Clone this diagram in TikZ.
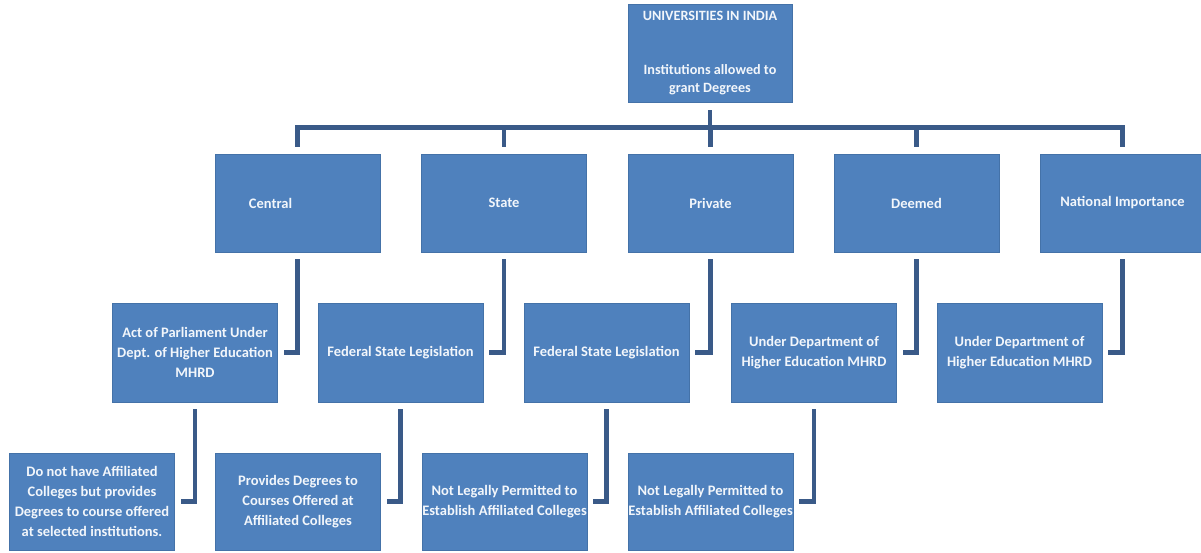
\documentclass[tikz,border=0pt]{standalone}
\usepackage{fontspec}
\setmainfont{Carlito}
\usetikzlibrary{calc}
\definecolor{boxblue}{HTML}{4F81BD}
\definecolor{boxedge}{HTML}{4472A8}
\definecolor{linecol}{HTML}{3A5A88}
\definecolor{txtcol}{HTML}{F2F6FB}
\tikzset{
  ubox/.style={rectangle, fill=boxblue, draw=boxedge, line width=0.8pt,
    minimum width=165pt, minimum height=98pt, inner sep=0pt,
    text=txtcol, font=\bfseries\fontsize{14.5}{20}\selectfont, align=center},
  conn/.style={draw=linecol, line width=4.5pt, line join=miter, line cap=butt},
}
\begin{document}
\begin{tikzpicture}[x=1pt, y=-1pt]
\useasboundingbox (0,0) rectangle (1201,552);
% top
\node[ubox, font=\bfseries\fontsize{14.2}{18}\selectfont, minimum width=164pt] (top) at (710,53)
  {UNIVERSITIES IN INDIA\\[36pt]Institutions allowed to\\grant Degrees};
% row 1
\node[ubox] (central) at (297.5,203) {Central\hspace*{54pt}};
\node[ubox] (state) at (504,203) {State};
\node[ubox] (private) at (710.5,203) {Private};
\node[ubox] (deemed) at (916.5,203) {Deemed};
\node[ubox] (national) at (1122.5,203) {National Importance};
% row 2
\node[ubox, minimum height=99pt] (act) at (195,352.5) {Act of Parliament Under\\Dept. of Higher Education\\MHRD};
\node[ubox, minimum height=99pt] (fsl1) at (400.5,352.5) {Federal State Legislation};
\node[ubox, minimum height=99pt] (fsl2) at (606.5,352.5) {Federal State Legislation};
\node[ubox, minimum height=99pt] (ud1) at (814,352.5) {Under Department of\\Higher Education MHRD};
\node[ubox, minimum height=99pt] (ud2) at (1019.5,352.5) {Under Department of\\Higher Education MHRD};
% row 3
\node[ubox, minimum height=97pt] (dnh) at (92,501.5) {Do not have Affiliated\\Colleges but provides\\\makebox[0pt]{Degrees to course offered}\\at selected institutions.};
\node[ubox, minimum height=97pt] (prov) at (298,501.5) {Provides Degrees to\\Courses Offered at\\Affiliated Colleges};
\node[ubox, minimum height=97pt] (nlp1) at (504.5,501.5) {Not Legally Permitted to\\\makebox[0pt]{Establish Affiliated Colleges}};
\node[ubox, minimum height=97pt] (nlp2) at (710.5,501.5) {Not Legally Permitted to\\\makebox[0pt]{Establish Affiliated Colleges}};
% top connectors
\draw[conn] ($(top.south)+(0,8)$) -- ($(top.south)+(0,45)$);
\draw[conn] ($(central.north)+(0,-7)$) -- ($(central.north)+(0,-26)$)
  -- ($(national.north)+(0,-26)$) -- ($(national.north)+(0,-7)$);
\foreach \n in {state,private,deemed}
  \draw[conn] ($(\n.north)+(0,-26)$) -- ($(\n.north)+(0,-7)$);
% parent to child connectors
\foreach \p/\c in {central/act,state/fsl1,private/fsl2,deemed/ud1,national/ud2,
                   act/dnh,fsl1/prov,fsl2/nlp1,ud1/nlp2}
  \draw[conn] ($(\p.south)+(0,7)$) |- ($(\c.east)+(6,0)$);
\end{tikzpicture}
\end{document}
